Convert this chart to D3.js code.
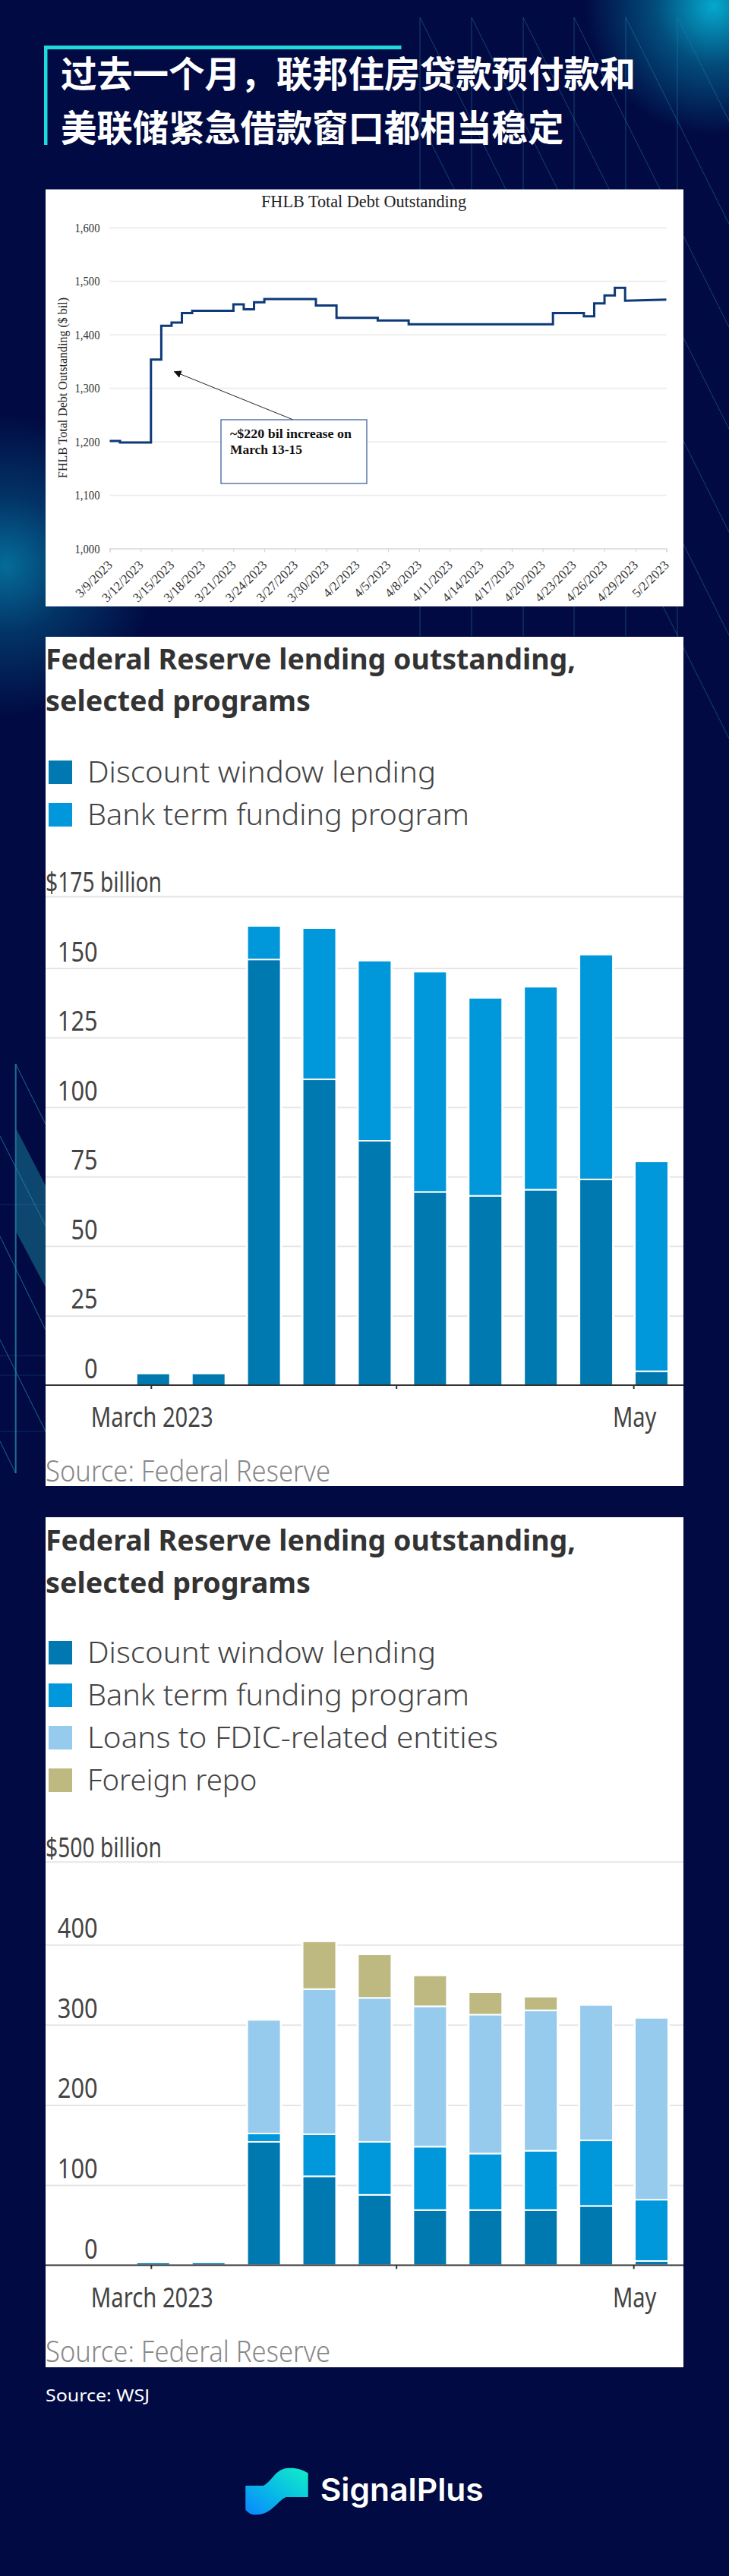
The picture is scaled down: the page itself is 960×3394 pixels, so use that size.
<!DOCTYPE html>
<html>
<head>
<meta charset="utf-8">
<script src="https://cdn.jsdelivr.net/npm/d3@7"></script>
<style>
  html, body { margin: 0; padding: 0; background: #010a42; }
  svg { display: block; }
  .sans { font-family: "Noto Sans", sans-serif; }
  .serif { font-family: "Liberation Serif", serif; }
</style>
</head>
<body>
<div id="chart"></div>
<script>
// --- FHLB debt: each value holds from its date until the next date
const fhlbDates = ['2023-03-09','2023-03-10','2023-03-13','2023-03-14','2023-03-15','2023-03-16','2023-03-17','2023-03-21','2023-03-22','2023-03-23','2023-03-24','2023-03-29','2023-03-31','2023-04-04','2023-04-07','2023-04-21','2023-04-24','2023-04-25','2023-04-26','2023-04-27','2023-04-28','2023-05-02'];
const fhlbValues = [1201,1198,1353,1416,1422,1440,1444,1456,1447,1460,1466,1454,1431,1426,1419,1440,1434,1458,1473,1487,1463,1465];
const fhlbTicks = ['3/9/2023','3/12/2023','3/15/2023','3/18/2023','3/21/2023','3/24/2023','3/27/2023','3/30/2023','4/2/2023','4/5/2023','4/8/2023','4/11/2023','4/14/2023','4/17/2023','4/20/2023','4/23/2023','4/26/2023','4/29/2023','5/2/2023'];
const fhlbYTicks = [1000,1100,1200,1300,1400,1500,1600];

// --- Fed lending, weekly
const fedDates = ['2023-03-01','2023-03-08','2023-03-15','2023-03-22','2023-03-29','2023-04-05','2023-04-12','2023-04-19','2023-04-26','2023-05-03'];
const axisDates = ['2023-03-01','2023-04-01','2023-05-01'];
const axisLabels = ['March 2023','','May'];

const discountA = [4.2,4.2,153,110,87.9,69.5,68.1,70.3,74,5];
const btfpA = [0,0,11.7,53.9,64.7,79.2,71.2,73,80.7,75.5];
const ticksA = [0,25,50,75,100,125,150,175];

const discountB = [3.4,3.4,154,111,87.8,68.8,68.8,68.8,74,5.2];
const btfpB = [0,0,10.4,52.5,66.2,79.2,70.6,74.1,81.8,76.6];
const loansB = [0,0,141.8,181.2,179.7,175.2,173.4,175.3,169,226.9];
const repoB = [0,0,0,59.4,54.3,38.5,27.8,17,0,0];
const ticksB = [0,100,200,300,400,500];

const parseDay = d3.utcParse('%Y-%m-%d');
const W = 960, H = 3394;
const svg = d3.select('#chart').append('svg').attr('width', W).attr('height', H).attr('viewBox', `0 0 ${W} ${H}`);
const defs = svg.append('defs');

// squeeze text to a measured width (source image has a narrow font)
function fit(sel, w){ return sel.attr('textLength', w).attr('lengthAdjust', 'spacingAndGlyphs'); }

function glow(id, color){
  const g = defs.append('radialGradient').attr('id', id);
  g.append('stop').attr('offset', '0%').attr('stop-color', color).attr('stop-opacity', 1);
  g.append('stop').attr('offset', '45%').attr('stop-color', color).attr('stop-opacity', 0.42);
  g.append('stop').attr('offset', '100%').attr('stop-color', color).attr('stop-opacity', 0);
}
glow('glowTop', '#05a8cc');
glow('glowLeft', '#056c98');

// background
svg.append('rect').attr('width', W).attr('height', H).attr('fill', '#010a42');
svg.append('circle').attr('cx', 940).attr('cy', 8).attr('r', 170).attr('fill', 'url(#glowTop)');
svg.append('circle').attr('cx', 8).attr('cy', 745).attr('r', 200).attr('fill', 'url(#glowLeft)');

// decoration, top right
const deco = svg.append('g').attr('stroke', '#2a7fa6').attr('stroke-opacity', 0.5).attr('stroke-width', 1).attr('fill', 'none');
[553,621,689,756,824,892].forEach(x => {
  deco.append('line').attr('x1', x).attr('x2', x).attr('y1', 23).attr('y2', 838);
  deco.append('line').attr('x1', x).attr('y1', 23).attr('x2', x + 540).attr('y2', 23 + 1080);
});
deco.append('line').attr('x1', 553).attr('y1', 159).attr('x2', 1025).attr('y2', 1103);

// decoration, left
const decoL = svg.append('g').attr('fill', 'none');
decoL.append('path').attr('d', 'M20.7,1486L60,1562V1696L20.7,1622Z').attr('fill', '#0f5278').attr('fill-opacity', 0.85);
decoL.append('line').attr('x1', 20.7).attr('x2', 20.7).attr('y1', 1402).attr('y2', 1941).attr('stroke', '#1d6f96').attr('stroke-width', 2);
[[20.7,1402,60,1481],[0,1497,60,1615],[0,1629,60,1752],[0,1765,60,1886],[0,1899,20.7,1941]].forEach(l => {
  decoL.append('line').attr('x1', l[0]).attr('y1', l[1]).attr('x2', l[2]).attr('y2', l[3]).attr('stroke', '#2a8fb6').attr('stroke-opacity', 0.7);
});
[1587,1786,1812,1886].forEach(y => {
  decoL.append('line').attr('x1', 0).attr('x2', 60).attr('y1', y).attr('y2', y).attr('stroke', '#2a7fa6').attr('stroke-opacity', 0.3);
});

// heading: one x per glyph so the full-width comma keeps its whole em
svg.append('path').attr('d', 'M58,60H528.5V65H62.5V191H58Z').attr('fill', '#1fd9dc');
const heading = svg.append('g').attr('fill', '#fff').attr('font-family', '"Noto Sans CJK SC"').attr('font-weight', 700).attr('font-size', 47.5);
[['过去一个月，联邦住房贷款预付款和', 115], ['美联储紧急借款窗口都相当稳定', 186]].forEach(h => {
  heading.append('text').attr('y', h[1])
    .attr('x', Array.from(h[0]).map((c, i) => (80 + i * 47.3).toFixed(1)).join(' '))
    .text(h[0]);
});

// cards
[[249.5,799],[839,1958],[1999,3119]].forEach(c => {
  svg.append('rect').attr('x', 60).attr('y', c[0]).attr('width', 840).attr('height', c[1] - c[0]).attr('fill', '#fff');
});

// ---------- chart 1: FHLB line ----------
(function drawFhlb(){
  const g = svg.append('g').attr('class', 'serif').attr('fill', '#222');
  const x = d3.scaleUtc().domain([parseDay('2023-03-09'), parseDay('2023-05-02')]).range([144.5, 877.5]);
  const y = d3.scaleLinear().domain([1000, 1600]).range([722.6, 299.6]);

  fit(g.append('text').attr('x', 479).attr('y', 273).attr('text-anchor', 'middle').attr('font-size', 23).text('FHLB Total Debt Outstanding'), 270);
  fit(g.append('text').attr('transform', 'translate(88,511) rotate(-90)').attr('text-anchor', 'middle').attr('font-size', 17).text('FHLB Total Debt Outstanding ($ bil)'), 238);

  const yAxis = d3.axisLeft(y).tickValues(fhlbYTicks).tickSize(-733).tickFormat(d3.format(','));
  const ya = g.append('g').attr('transform', 'translate(144.5,0)').call(yAxis);
  ya.select('.domain').remove();
  ya.selectAll('line').attr('stroke', '#ececec').attr('stroke-width', 1.6);
  ya.selectAll('text').attr('x', -13).attr('font-family', '"Liberation Serif"').attr('font-size', 17).attr('fill', '#333').call(fit, 33);

  const tickDates = fhlbTicks.map(t => { const p = t.split('/'); return new Date(Date.UTC(+p[2], +p[0] - 1, +p[1])); });
  const xAxis = d3.axisBottom(x).tickValues(tickDates).tickSize(5).tickFormat((d, i) => fhlbTicks[i]);
  const xa = g.append('g').attr('transform', 'translate(0,722.6)').call(xAxis);
  xa.select('.domain').attr('stroke', '#d4d4d4').attr('stroke-width', 1.4);
  xa.selectAll('line').attr('stroke', '#d4d4d4');
  xa.selectAll('text').attr('font-family', '"Liberation Serif"').attr('font-size', 17).attr('fill', '#333')
    .attr('text-anchor', 'end').attr('dy', 0).attr('y', 0)
    .attr('transform', 'translate(4,23) rotate(-45)');

  // stepped up to the last point, which is a straight run in the source
  const pts = [];
  fhlbDates.forEach((d, i) => {
    pts.push([parseDay(d), fhlbValues[i]]);
    if(i < fhlbDates.length - 2) pts.push([parseDay(fhlbDates[i + 1]), fhlbValues[i]]);
  });
  const line = d3.line().x(d => x(d[0])).y(d => y(d[1]));
  g.append('path').attr('d', line(pts)).attr('fill', 'none').attr('stroke', '#0d3a78').attr('stroke-width', 3).attr('stroke-linejoin', 'miter');

  // annotation
  defs.append('marker').attr('id', 'arrow').attr('viewBox', '0 0 10 10').attr('refX', 9).attr('refY', 5)
    .attr('markerWidth', 10).attr('markerHeight', 10).attr('orient', 'auto')
    .append('path').attr('d', 'M0,0L10,5L0,10Z').attr('fill', '#111');
  g.append('line').attr('x1', 386).attr('y1', 553).attr('x2', 229.6).attr('y2', 489.7).attr('stroke', '#222').attr('marker-end', 'url(#arrow)');
  g.append('rect').attr('x', 291).attr('y', 553).attr('width', 192).attr('height', 84).attr('fill', '#fff').attr('stroke', '#2f5597').attr('stroke-width', 1.2);
  fit(g.append('text').attr('x', 303).attr('y', 577).attr('font-size', 17).attr('font-weight', 700).attr('fill', '#111').text('~$220 bil increase on'), 160);
  fit(g.append('text').attr('x', 303).attr('y', 598).attr('font-size', 17).attr('font-weight', 700).attr('fill', '#111').text('March 13-15'), 95);
})();

// ---------- charts 2 and 3: Fed stacked bars ----------
function drawFed(o){
  const g = svg.append('g').attr('class', 'sans');
  const rows = fedDates.map((d, i) => {
    const row = { date: parseDay(d) };
    o.series.forEach(s => row[s.name] = s.values[i]);
    return row;
  });
  const keys = o.series.map(s => s.name);
  const stacked = d3.stack().keys(keys)(rows);

  const x = d3.scaleUtc().domain([parseDay(fedDates[0]), parseDay(fedDates[fedDates.length - 1])]).range([201.8, 858]);
  // the top band is a little taller than the rest in the source image, hence the extra knot
  const y = d3.scaleLinear().domain([0, o.knot, o.max]).range([o.y0, o.yKnot, o.yTop]);
  const barW = 44;

  // title
  o.titleY.forEach((ty, i) => {
    fit(g.append('text').attr('x', 60).attr('y', ty).attr('font-size', 37).attr('font-weight', 700).attr('fill', '#333')
      .text(i ? 'selected programs' : 'Federal Reserve lending outstanding,'), i ? 349 : 698);
  });

  // legend
  o.series.forEach((s, i) => {
    const ly = o.legendY + i * 56;
    g.append('rect').attr('x', 64).attr('y', ly).attr('width', 31).attr('height', 31).attr('fill', s.color);
    fit(g.append('text').attr('x', 115).attr('y', ly + 29).attr('font-size', 39).attr('font-weight', 300).attr('fill', '#444').text(s.name), s.labelW);
  });

  // unit label
  fit(g.append('text').attr('x', 60).attr('y', y(o.max) - 6).attr('font-size', 36).attr('fill', '#444').text(`$${o.max} billion`), 153);

  // grid and y ticks
  const yAxis = d3.axisLeft(y).tickValues(o.ticks.filter(t => t > 0)).tickSize(-840);
  const ya = g.append('g').attr('transform', 'translate(60,0)').call(yAxis);
  ya.select('.domain').remove();
  ya.selectAll('line').attr('stroke', '#e6e6e6').attr('stroke-width', 2);
  ya.selectAll('text').remove();

  o.ticks.filter(t => t < o.max).forEach(t => {
    const s = String(t);
    fit(g.append('text').attr('x', 128.6).attr('y', y(t) - 9).attr('text-anchor', 'end').attr('font-size', 36).attr('fill', '#444').text(s), s.length * 17.6);
  });

  // white halo cuts the grid around each column
  g.append('g').selectAll('rect').data(rows).join('rect')
    .attr('x', d => x(d.date) - barW / 2 - 1.7).attr('width', barW + 3.4)
    .attr('y', d => y(d3.sum(keys, k => d[k]))).attr('height', d => y(0) - y(d3.sum(keys, k => d[k])))
    .attr('fill', '#fff');

  // bars
  g.append('g').selectAll('g').data(stacked).join('g')
    .attr('fill', (d, i) => o.series[i].color)
    .selectAll('rect').data(d => d.filter(p => p[1] > p[0])).join('rect')
    .attr('x', d => x(d.data.date) - barW / 2).attr('width', barW)
    .attr('y', d => y(d[1])).attr('height', d => y(d[0]) - y(d[1]))
    .attr('stroke', '#fff').attr('stroke-width', 2);

  // x axis
  const ticks = axisDates.map(parseDay);
  const xAxis = d3.axisBottom(x).tickValues(ticks).tickSize(5).tickFormat((d, i) => axisLabels[i]);
  const xa = g.append('g').attr('transform', `translate(-3,${o.y0})`).call(xAxis);
  xa.select('.domain').remove();
  xa.selectAll('line').attr('stroke', '#333').attr('stroke-width', 2);
  xa.selectAll('text').attr('font-family', '"Noto Sans"').attr('font-size', 36).attr('fill', '#444').attr('y', 55).attr('dy', 0).attr('dx', 1)
    .each(function(d, i){ if(axisLabels[i]) fit(d3.select(this), i ? 57.5 : 161); });
  g.append('line').attr('x1', 60).attr('x2', 900).attr('y1', o.y0).attr('y2', o.y0).attr('stroke', '#333').attr('stroke-width', 2);

  // source
  fit(g.append('text').attr('x', 60).attr('y', o.sourceY).attr('font-size', 38).attr('font-weight', 300).attr('fill', '#888').text('Source: Federal Reserve'), 375);
}

drawFed({
  series: [
    { name: 'Discount window lending', values: discountA, color: '#0079b1', labelW: 459 },
    { name: 'Bank term funding program', values: btfpA, color: '#0098db', labelW: 503 }
  ],
  ticks: ticksA, max: 175, knot: 150, y0: 1825, yKnot: 1275.5, yTop: 1181,
  titleY: [882, 937], legendY: 1002, sourceY: 1952
});

drawFed({
  series: [
    { name: 'Discount window lending', values: discountB, color: '#0079b1', labelW: 459 },
    { name: 'Bank term funding program', values: btfpB, color: '#0098db', labelW: 503 },
    { name: 'Loans to FDIC-related entities', values: loansB, color: '#96cbee', labelW: 541 },
    { name: 'Foreign repo', values: repoB, color: '#bdb980', labelW: 223.5 }
  ],
  ticks: ticksB, max: 500, knot: 400, y0: 2984.5, yKnot: 2562.3, yTop: 2452.7,
  titleY: [2043, 2099], legendY: 2162, sourceY: 3112
});

// footer
fit(svg.append('text').attr('x', 60).attr('y', 3164).attr('font-family', '"Noto Sans"').attr('font-size', 22).attr('fill', '#fff').text('Source: WSJ'), 137);

// logo
defs.append('linearGradient').attr('id', 'logoFill').attr('x1', '0%').attr('y1', '100%').attr('x2', '100%').attr('y2', '0%')
  .selectAll('stop').data([['0%', '#0a86ff'], ['45%', '#08b8e8'], ['100%', '#12efc6']]).join('stop')
  .attr('offset', d => d[0]).attr('stop-color', d => d[1]);
svg.append('path').attr('fill', 'url(#logoFill)')
  .attr('d', 'M323.3,3275H346.7C360,3268 362,3252 381,3251.7C392,3251.5 398,3254 405.7,3258.3V3290H376.7C365,3295 358,3313 337,3313.3C331,3313.3 327,3311 323.3,3306.7Z');
fit(svg.append('text').attr('x', 421.7).attr('y', 3295).attr('font-family', 'Inter').attr('font-size', 41).attr('font-weight', 600).attr('fill', '#fff').text('SignalPlus'), 215);
</script>
</body>
</html>
